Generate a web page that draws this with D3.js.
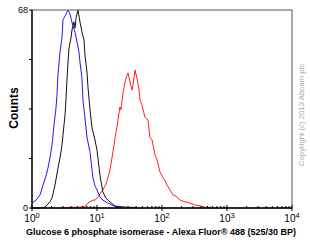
<!DOCTYPE html>
<html>
<head>
<meta charset="utf-8">
<script src="https://cdn.jsdelivr.net/npm/d3@7"></script>
<style>
body { margin: 0; background: #fff; }
text { font-family: "Liberation Sans", Arial, sans-serif; }
</style>
</head>
<body>
<svg id="chart" width="310" height="246"></svg>
<script>
// fluorescence intensity / counts for each histogram
var blueX = [1.00, 1.15, 1.33, 1.48, 1.64, 1.76, 1.89, 2.03, 2.18, 2.34, 2.42, 2.51, 2.70, 2.79, 2.89, 3.00, 3.22, 3.45, 3.58, 3.84, 3.98, 4.27, 4.59, 4.92, 5.28, 5.47, 5.87, 6.08, 6.53, 7.01, 7.81, 8.66, 9.30, 10.0, 11.1, 12.3, 14.7, 17.0, 20.3, 24.0];
var blueY = [1.7, 2.7, 4.5, 7.9, 11.0, 13.7, 17.2, 21.6, 28.5, 34.3, 38.5, 45.7, 53.6, 56.0, 58.4, 64.6, 65.9, 67.3, 68.0, 66.6, 65.2, 62.5, 60.4, 57.0, 53.6, 50.1, 44.6, 37.1, 30.9, 24.4, 19.2, 10.3, 7.6, 6.2, 3.8, 2.7, 1.7, 1.0, 0.3, 0];
var blackX = [1.00, 1.33, 1.58, 1.89, 2.03, 2.26, 2.51, 2.70, 2.89, 3.00, 3.22, 3.33, 3.45, 3.58, 3.71, 3.98, 4.12, 4.42, 4.59, 4.75, 5.10, 5.47, 5.87, 6.31, 6.53, 7.01, 7.26, 7.81, 8.38, 9.30, 10.0, 11.1, 12.3, 13.7, 15.8, 18.9, 27.0, 38.4, 42.0];
var blackY = [0, 0, 0.3, 2.1, 3.4, 7.9, 13.7, 17.2, 21.6, 25.1, 31.9, 37.1, 44.0, 50.1, 54.9, 58.4, 61.1, 63.9, 61.8, 65.2, 68.0, 63.9, 60.4, 57.7, 52.5, 46.7, 41.6, 33.7, 27.5, 23.4, 19.9, 11.3, 5.5, 3.4, 2.1, 0.7, 0.3, 0.2, 0];
var redX = [2.70, 3.84, 5.47, 6.78, 7.26, 7.81, 8.66, 9.30, 10.0, 11.1, 12.3, 13.7, 14.7, 15.8, 17.0, 18.3, 18.9, 20.3, 21.0, 22.5, 23.3, 25.1, 27.0, 29.0, 30.0, 32.2, 34.6, 35.8, 38.4, 41.2, 44.3, 45.8, 49.2, 54.6, 60.9, 65.0, 70.1, 78.2, 83.9, 93.1, 104, 111, 119, 133, 147, 164, 189, 226, 270, 322, 384, 459, 610, 640];
var redY = [0, 0.2, 0.3, 0.7, 1.7, 2.1, 2.7, 2.7, 3.4, 4.8, 6.2, 8.2, 10.3, 13.0, 17.2, 21.6, 24.0, 27.8, 30.2, 34.7, 33.7, 39.5, 43.3, 45.7, 46.4, 43.3, 40.5, 42.2, 47.4, 44.6, 40.5, 37.1, 35.4, 31.2, 30.2, 24.4, 23.4, 18.2, 16.5, 12.4, 10.3, 9.6, 7.9, 6.2, 4.5, 4.1, 2.7, 2.1, 1.7, 1.0, 0.7, 0.3, 0.2, 0];
var decades = [1, 10, 100, 1000, 10000];
var yTicks = [0, 17, 34, 51, 68];

var svg = d3.select("#chart");
var pLeft = 32, pRight = 292, pTop = 10, pBottom = 208;

var x = d3.scaleLog().domain([1, 10000]).range([pLeft, pRight]);
var y = d3.scaleLinear().domain([0, 68]).range([pBottom, pTop]);

function curve(xs, ys, color) {
    var pts = xs.map(function (d, i) { return [d, ys[i]]; });
    svg.append("path")
        .attr("d", d3.line().x(function (d) { return x(d[0]); }).y(function (d) { return y(d[1]); })(pts))
        .attr("fill", "none").attr("stroke", color).attr("stroke-width", 1);
}
curve(redX, redY, "#ff2020");
curve(blackX, blackY, "#111");
curve(blueX, blueY, "#1a1aff");

// frame
svg.append("rect").attr("x", pLeft).attr("y", pTop).attr("width", pRight - pLeft).attr("height", pBottom - pTop)
    .attr("fill", "none").attr("stroke", "#555").attr("stroke-width", 1);
svg.append("line").attr("x1", pLeft).attr("x2", pLeft).attr("y1", pTop).attr("y2", pBottom + 1).attr("stroke", "#000").attr("stroke-width", 1.3);
svg.append("line").attr("x1", pLeft).attr("x2", pRight).attr("y1", pBottom).attr("y2", pBottom).attr("stroke", "#000").attr("stroke-width", 1.3);

// minor ticks on x (inside)
var minor = [];
for (var d = 0; d < 4; d++) {
    for (var k = 2; k < 10; k++) minor.push(k * decades[d]);
}
svg.selectAll(".minor").data(minor).enter().append("line")
    .attr("x1", function (d) { return x(d); }).attr("x2", function (d) { return x(d); })
    .attr("y1", pBottom).attr("y2", pBottom - 2).attr("stroke", "#000");
svg.selectAll(".major").data(decades).enter().append("line")
    .attr("x1", function (d) { return x(d); }).attr("x2", function (d) { return x(d); })
    .attr("y1", pBottom - 3).attr("y2", pBottom + 3).attr("stroke", "#000");

// decade labels 10^n
var lab = svg.selectAll(".xl").data(decades).enter().append("text")
    .attr("x", function (d) { return x(d); }).attr("y", 222)
    .attr("text-anchor", "middle").attr("font-size", 10).attr("fill", "#000");
lab.append("tspan").text("10");
lab.append("tspan").attr("dy", -4).attr("font-size", 7.5).text(function (d) { return Math.round(Math.log10(d)); });

// y ticks
svg.selectAll(".yt").data(yTicks).enter().append("line")
    .attr("x1", pLeft - 3).attr("x2", pLeft).attr("y1", function (d) { return y(d); }).attr("y2", function (d) { return y(d); })
    .attr("stroke", "#000");
svg.selectAll(".yl").data([0, 68]).enter().append("text")
    .attr("x", pLeft - 4).attr("y", function (d) { return y(d) + 3; })
    .attr("text-anchor", "end").attr("font-size", 9).text(function (d) { return d; });

svg.append("text").attr("transform", "translate(18,108) rotate(-90)")
    .attr("text-anchor", "middle").attr("font-size", 12).attr("font-weight", "bold").text("Counts");

svg.append("text").attr("x", 161).attr("y", 235)
    .attr("text-anchor", "middle").attr("font-size", 9).attr("font-weight", "bold")
    .text("Glucose 6 phosphate isomerase - Alexa Fluor\u00ae 488 (525/30 BP)");

svg.append("text").attr("transform", "translate(304,115) rotate(-90)")
    .attr("text-anchor", "middle").attr("font-size", 7.8).attr("fill", "#aaa")
    .text("Copyright (c) 2013 Abcam plc");
</script>
</body>
</html>
